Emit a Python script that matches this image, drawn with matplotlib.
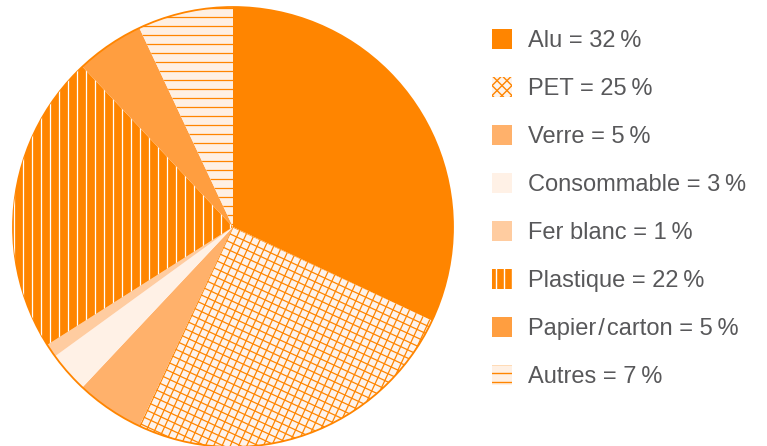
import numpy as np
import matplotlib
matplotlib.use("Agg")
import matplotlib.pyplot as plt
from matplotlib.patches import Rectangle, Circle

plt.rcParams['font.family'] = ['Liberation Sans', 'DejaVu Sans']

labels = ["Alu", "PET", "Verre", "Consommable", "Fer blanc", "Plastique",
          "Papier\u200a/\u200acarton", "Autres"]
values = [32, 25, 5, 3, 1, 22, 5, 7]

ORANGE = "#FF8500"
colors = [ORANGE, "#FDF3EC", "#FFB16B", "#FFF1E6", "#FFCCA0", ORANGE, "#FF9E40", "#FFF0E3"]
# texture per slice: (angles, spacing, line colour)
textures = {
    "PET": ([-25, 65], 7.5, ORANGE),
    "Plastique": ([90], 9.0, "white"),
    "Autres": ([0], 9.0, ORANGE),
}
legend_textures = {
    "PET": ([45, -45], 7.0, ORANGE, (0, 0)),
    "Plastique": ([90], 8.0, "white", (-2, 0)),
    "Autres": ([0], 9.0, ORANGE, (0, 4)),
}


def stripes(ax, patch, center, angles, spacing, color, reach=260, lw=0.9):
    cx, cy = center
    for a in angles:
        t = np.deg2rad(a)
        d = np.array([np.cos(t), np.sin(t)])
        n = np.array([-np.sin(t), np.cos(t)])
        for k in np.arange(-reach, reach, spacing):
            p = np.array([cx, cy]) + n * k
            ln, = ax.plot([p[0] - d[0] * reach, p[0] + d[0] * reach],
                          [p[1] - d[1] * reach, p[1] + d[1] * reach],
                          color=color, lw=lw, solid_capstyle='butt')
            ln.set_clip_path(patch)


W, H = 767, 446
fig = plt.figure(figsize=(W / 100, H / 100), dpi=100)
ax = fig.add_axes([0, 0, 1, 1])

center = (233, H - 227)
radius = 220
wedges, _ = ax.pie(values, colors=colors, startangle=90, counterclock=False,
                   center=center, radius=radius, wedgeprops=dict(linewidth=0))

for w, name in zip(wedges, labels):
    if name in textures:
        angs, sp, col = textures[name]
        stripes(ax, w, center, angs, sp, col, reach=radius + 20)

ax.add_patch(Circle(center, radius, fill=False, edgecolor=ORANGE, lw=1.3))

# legend
row_y = H - 39
for i, (name, v, c) in enumerate(zip(labels, values, colors)):
    yc = row_y - i * 48
    rect = Rectangle((492, yc - 10), 20, 20, facecolor=c, edgecolor='none')
    ax.add_patch(rect)
    if name in legend_textures:
        angs, sp, col, (dx, dy) = legend_textures[name]
        stripes(ax, rect, (502 + dx, yc + dy), angs, sp, col, reach=20, lw=1.0)
    ax.text(528, yc - 8, f"{name} = {v}\u2009%", fontsize=17, color="#58585A",
            va='baseline', ha='left')

ax.set_xlim(0, W)
ax.set_ylim(0, H)
ax.set_aspect('auto')
ax.axis('off')

fig.savefig("out.png", dpi=100)
